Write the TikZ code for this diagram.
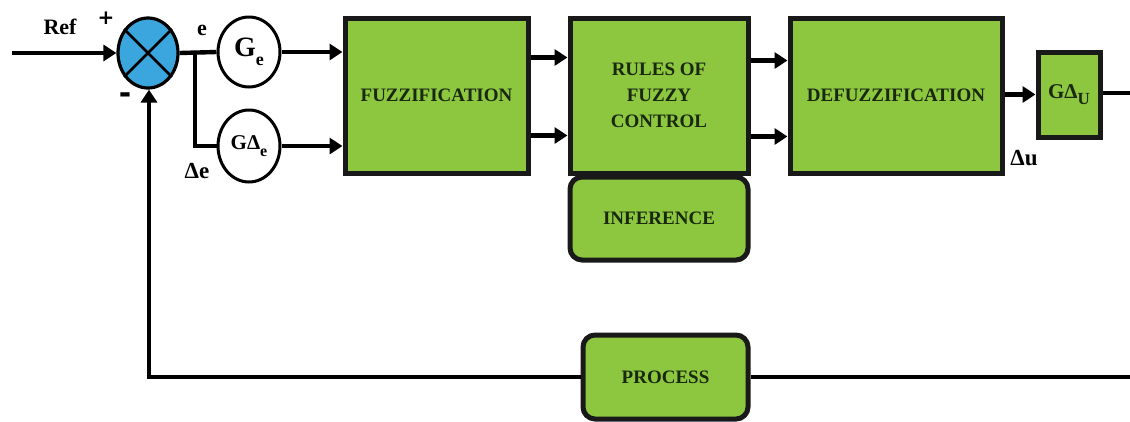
\documentclass[tikz,border=0pt]{standalone}
\usepackage{fontspec}
\setmainfont{Liberation Serif}
\newfontfamily\symfont{DejaVu Sans}
\usetikzlibrary{arrows.meta,shapes.geometric,calc}
\definecolor{boxgreen}{RGB}{141,198,63}
\definecolor{sumblue}{RGB}{58,166,221}
\definecolor{txtdark}{RGB}{25,40,15}
\newcommand{\fs}[1]{\fontsize{#1}{#1}\selectfont}
\tikzset{
  conn/.style={line width=4.4pt,-{Triangle[length=13pt,width=16pt]}},
  wire/.style={line width=4.4pt},
  block/.style={draw=black!90,line width=5pt,fill=boxgreen,inner sep=0pt,
    font=\bfseries\fs{19},text=txtdark,align=center},
  rblock/.style={block,rounded corners=12pt},
  gain/.style={ellipse,draw,line width=3pt,fill=white,inner sep=0pt,font=\bfseries},
  lbl/.style={font=\bfseries\fs{22},inner sep=0pt}
}
\begin{document}
\begin{tikzpicture}[x=1pt,y=-1pt]
\useasboundingbox (0,0) rectangle (1130,421);
% summing junction
\node[ellipse,draw,line width=3.2pt,fill=sumblue,minimum width=60pt,minimum height=70pt] (sum) at (148,53) {};
\draw[line width=2.8pt] (sum.45) -- (sum.225);
\draw[line width=2.8pt] (sum.135) -- (sum.315);
% gains
\node[gain,minimum width=62pt,minimum height=70pt] (ge) at (249,52) {\fs{28}G\raisebox{-0.3em}{\fs{18}e}};
\node[gain,minimum width=62pt,minimum height=72pt] (gde) at (249,146) {\fs{21}GΔ\raisebox{-0.3em}{\fs{16}e}};
% blocks
\node[block,minimum width=183pt,minimum height=155pt] (fuzz) at (436.5,95.5) {FUZZIFICATION};
\node[block,minimum width=178pt,minimum height=155pt] (rules) at (659,95.5) {RULES OF\\[7pt]FUZZY\\[7pt]CONTROL};
\node[rblock,minimum width=178pt,minimum height=83pt] (infer) at (659,218.5) {INFERENCE};
\node[block,minimum width=212pt,minimum height=155pt] (defuzz) at (896,95.5) {DEFUZZIFICATION};
\node[block,minimum width=62pt,minimum height=85pt,font=\bfseries\fs{21}] (gdu) at (1069,94.5) {GΔ\raisebox{-0.3em}{\fs{17}U}};
\node[rblock,minimum width=165pt,minimum height=84pt] (proc) at (665.5,377) {PROCESS};
% coordinates
\coordinate (refin) at (12,53);
\coordinate (br) at (195,52);
\coordinate (out) at (1130,93);
\coordinate (fbr) at (1130,377);
\coordinate (fbl) at (149,377);
% connectors
\draw[conn] (refin) -- (sum.west);
\draw[wire] (sum.east) -- (ge.west);
\draw[wire] (br) |- (gde.west);
\draw[conn] (ge.east) -- (ge.east -| fuzz.west);
\draw[conn] (gde.east) -- (gde.east -| fuzz.west);
\draw[conn] ($(fuzz.east)+(0,-38)$) -- ($(rules.west)+(0,-38)$);
\draw[conn] ($(fuzz.east)+(0,40)$) -- ($(rules.west)+(0,40)$);
\draw[conn] ($(rules.east)+(0,-35)$) -- ($(defuzz.west)+(0,-35)$);
\draw[conn] ($(rules.east)+(0,41)$) -- ($(defuzz.west)+(0,41)$);
\draw[conn] (defuzz.east |- gdu.west) -- (gdu.west);
\draw[wire] (gdu.east |- out) -- (out);
\draw[wire] (fbr) -- (proc.east);
\draw[conn] (proc.west) -- (fbl) -- (fbl |- sum.south);
% labels
\node[lbl] (reflbl) at (60,27) {Ref};
\node[lbl,font=\symfont\bfseries\fs{20}] (plus) at (106,18) {+};
\node[lbl,font=\symfont\bfseries\fs{30}] (minus) at (125,98) {-};
\node[lbl] (elbl) at (202,30) {e};
\node[lbl,font=\bfseries\fs{23}] (delbl) at (197,171) {Δe};
\node[lbl,font=\bfseries\fs{23}] (dulbl) at (1024,158) {Δu};
\end{tikzpicture}
\end{document}
